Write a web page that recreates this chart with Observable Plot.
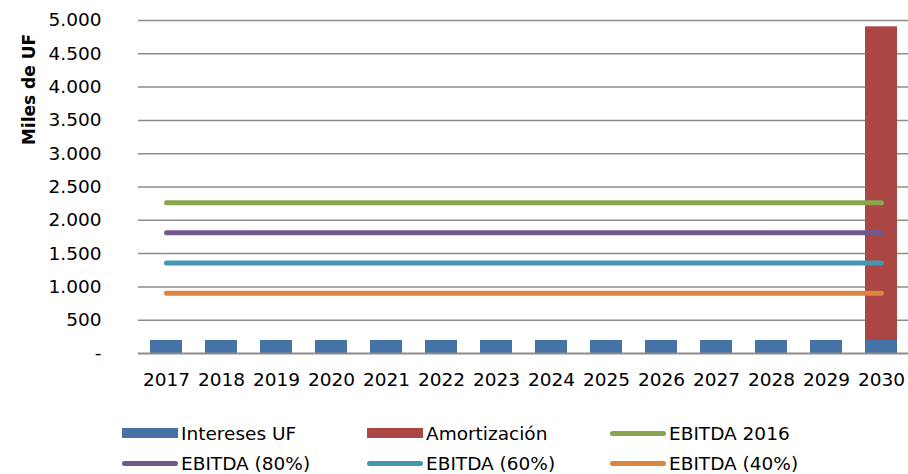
<!DOCTYPE html>
<html>
<head>
<meta charset="utf-8">
<script src="https://cdn.jsdelivr.net/npm/d3@7"></script>
<script src="https://cdn.jsdelivr.net/npm/@observablehq/plot@0.6"></script>
<style>
  html, body { margin: 0; padding: 0; background: #fff; }
  #wrap { position: relative; width: 908px; height: 474px; font-family: "DejaVu Sans", Verdana, sans-serif; color: #000; }
  .item { position: absolute; display: flex; align-items: center; font-size: 18.5px; height: 24px; white-space: nowrap; }
  .sw { width: 56px; margin-right: 3px; }
</style>
</head>
<body>
<div id="wrap"></div>
<script>
const years = ["2017","2018","2019","2020","2021","2022","2023","2024","2025","2026","2027","2028","2029","2030"];
const intereses = [195,195,195,195,195,195,195,195,195,195,195,195,195,195];
const amortizacion = [0,0,0,0,0,0,0,0,0,0,0,0,0,4710];
const ebitdaNames = ["EBITDA 2016","EBITDA (80%)","EBITDA (60%)","EBITDA (40%)"];
const ebitdaValues = [2265, 1812, 1359, 906];
const yTicks = [0,500,1000,1500,2000,2500,3000,3500,4000,4500,5000];
const barNames = ["Intereses UF","Amortización"];

const barColors = {"Intereses UF":"#4572A7","Amortización":"#AA4643"};
const lineColors = {"EBITDA 2016":"#89A54E","EBITDA (80%)":"#71588F","EBITDA (60%)":"#4198AF","EBITDA (40%)":"#DB843D"};

const barData = [];
years.forEach((y,i) => {
  barData.push({year:y, series:"Intereses UF", value:intereses[i]});
  barData.push({year:y, series:"Amortización", value:amortizacion[i]});
});
const lineData = [];
ebitdaNames.forEach((n,k) => years.forEach(y => lineData.push({year:y, series:n, value:ebitdaValues[k]})));

const fmt = d => d === 0 ? "-" : d3.format(",")(d).replace(/,/g, ".");

const chart = Plot.plot({
  width: 908,
  height: 400,
  marginLeft: 138,
  marginRight: 0,
  marginTop: 20,
  marginBottom: 47,
  style: {fontFamily: "DejaVu Sans, Verdana, sans-serif", fontSize: "18.5px", color: "#000", background: "#fff"},
  x: {type: "band", domain: years, paddingInner: 0.42, paddingOuter: 0.21, label: null},
  y: {domain: [0, 5000], label: null},
  marks: [
    Plot.gridY(yTicks.filter(d => d > 0), {stroke: "#8c8c8c", strokeOpacity: 1, strokeWidth: 1.5}),
    Plot.axisY({ticks: yTicks, tickFormat: fmt, tickSize: 0, tickPadding: 37, label: null, fontSize: 18.5}),
    Plot.axisX({tickSize: 0, tickPadding: 19, label: null, fontSize: 18.5}),
    Plot.barY(barData, Plot.stackY({x: "year", y: "value", fill: d => barColors[d.series], order: barNames})),
    Plot.ruleY([0], {stroke: "#8c8c8c", strokeWidth: 2}),
    Plot.lineY(lineData, {x: "year", y: "value", z: "series", stroke: d => lineColors[d.series], strokeWidth: 5, strokeLinecap: "round"}),
    Plot.text(["Miles de UF"], {frameAnchor: "top-left", dx: -116, dy: 69, rotate: -90, fontWeight: "bold", fontSize: 17, textAnchor: "middle", fill: "#000"})
  ]
});
const wrap = document.getElementById("wrap");
wrap.appendChild(chart);

const legendItems = [
  {name:"Intereses UF", color:barColors["Intereses UF"], type:"bar", x:122, y:433},
  {name:"Amortización", color:barColors["Amortización"], type:"bar", x:367, y:433},
  {name:"EBITDA 2016", color:lineColors["EBITDA 2016"], type:"line", x:610, y:433},
  {name:"EBITDA (80%)", color:lineColors["EBITDA (80%)"], type:"line", x:122, y:463},
  {name:"EBITDA (60%)", color:lineColors["EBITDA (60%)"], type:"line", x:367, y:463},
  {name:"EBITDA (40%)", color:lineColors["EBITDA (40%)"], type:"line", x:610, y:463}
];
legendItems.forEach(it => {
  const d = document.createElement("div");
  d.className = "item";
  d.style.left = it.x + "px";
  d.style.top = (it.y - 12) + "px";
  const sw = document.createElement("div");
  sw.className = "sw";
  if (it.type === "bar") { sw.style.height = "10px"; sw.style.background = it.color; }
  else { sw.style.height = "5px"; sw.style.background = it.color; sw.style.borderRadius = "3px"; }
  d.appendChild(sw);
  const t = document.createElement("span");
  t.textContent = it.name;
  d.appendChild(t);
  wrap.appendChild(d);
});
</script>
</body>
</html>
